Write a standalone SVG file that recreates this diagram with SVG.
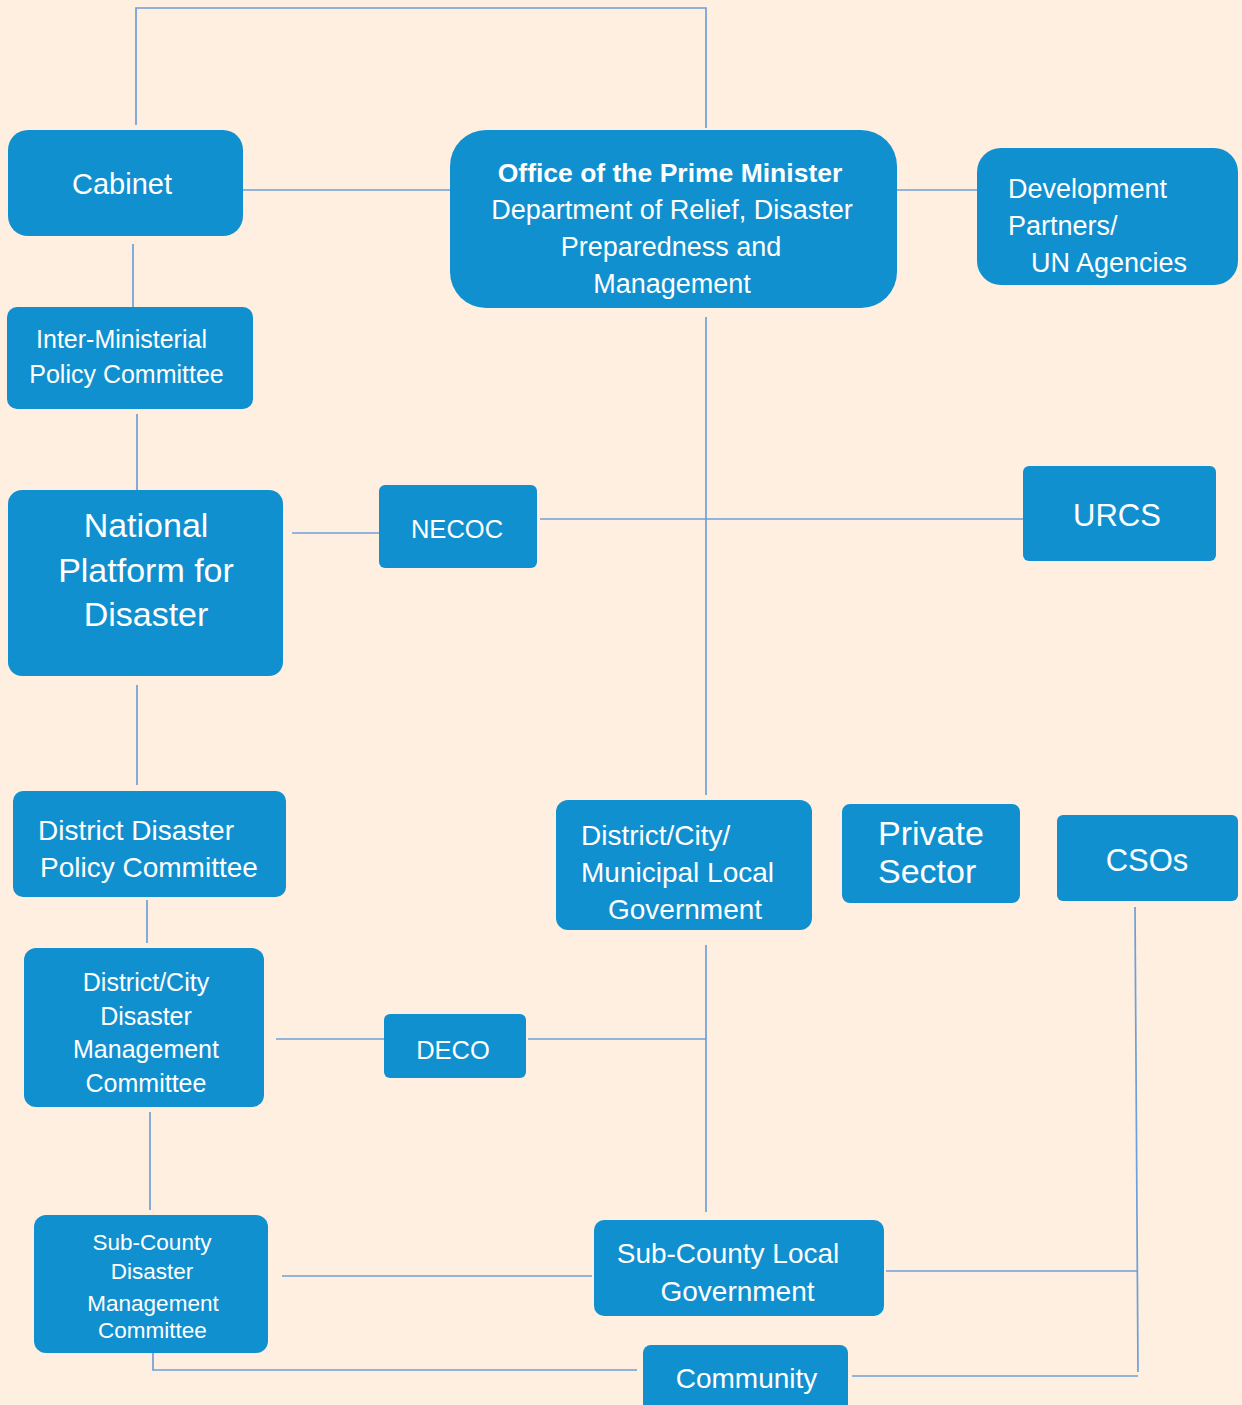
<svg xmlns="http://www.w3.org/2000/svg" width="1242" height="1405" viewBox="0 0 1242 1405">
<style>
.box{fill:#1190D0;}
.ln{stroke:#6E9FD8;stroke-width:1.7;fill:none;}
text{font-family:"Liberation Sans",Arial,sans-serif;fill:#FFFFFF;}
.c{text-anchor:middle;}
.b{font-weight:bold;}
</style>
<rect width="1242" height="1405" fill="#FFEFE0"/>
<g id="connectors">
<polyline class="ln" points="136,125 136,8 706,8 706,128"/>
<line class="ln" x1="243" y1="190" x2="450" y2="190"/>
<line class="ln" x1="897" y1="190" x2="977" y2="190"/>
<line class="ln" x1="133" y1="244" x2="133" y2="312"/>
<line class="ln" x1="137" y1="414" x2="137" y2="490"/>
<line class="ln" x1="292" y1="533" x2="381" y2="533"/>
<line class="ln" x1="540" y1="519" x2="1023" y2="519"/>
<line class="ln" x1="706" y1="317" x2="706" y2="795"/>
<line class="ln" x1="137" y1="685" x2="137" y2="785"/>
<line class="ln" x1="147" y1="900" x2="147" y2="943"/>
<line class="ln" x1="276" y1="1039" x2="384" y2="1039"/>
<line class="ln" x1="528" y1="1039" x2="706" y2="1039"/>
<line class="ln" x1="706" y1="945" x2="706" y2="1212"/>
<line class="ln" x1="150" y1="1112" x2="150" y2="1210"/>
<line class="ln" x1="282" y1="1276" x2="592" y2="1276"/>
<line class="ln" x1="886" y1="1271" x2="1138" y2="1271"/>
<line class="ln" x1="1135" y1="907" x2="1138" y2="1372"/>
<line class="ln" x1="852" y1="1376" x2="1138" y2="1376"/>
<polyline class="ln" points="153,1353 153,1370 637,1370"/>
</g>
<g id="cabinet">
<rect class="box" x="8" y="130" width="235" height="106" rx="20"/>
<text class="c" x="122" y="194" font-size="29">Cabinet</text>
</g>
<g id="opm">
<rect class="box" x="450" y="130" width="447" height="178" rx="36"/>
<text class="c b" x="670" y="182" font-size="26.5">Office of the Prime Minister</text>
<text class="c" x="672" y="219" font-size="27">Department of Relief, Disaster</text>
<text class="c" x="671" y="256" font-size="27">Preparedness and</text>
<text class="c" x="672" y="293" font-size="27">Management</text>
</g>
<g id="devpartners">
<rect class="box" x="977" y="148" width="261" height="137" rx="24"/>
<text x="1008" y="198" font-size="27">Development</text>
<text x="1008" y="235" font-size="27">Partners/</text>
<text x="1031" y="272" font-size="27">UN Agencies</text>
</g>
<g id="impc">
<rect class="box" x="7" y="307" width="246" height="102" rx="10"/>
<text class="c" x="121.5" y="348" font-size="25">Inter-Ministerial</text>
<text class="c" x="126.5" y="383" font-size="25">Policy Committee</text>
</g>
<g id="npd">
<rect class="box" x="8" y="490" width="275" height="186" rx="14"/>
<text class="c" x="146" y="537" font-size="34">National</text>
<text class="c" x="146" y="582" font-size="34">Platform for</text>
<text class="c" x="146" y="626" font-size="34">Disaster</text>
</g>
<g id="necoc">
<rect class="box" x="379" y="485" width="158" height="83" rx="6"/>
<text class="c" x="457" y="538" font-size="25.5">NECOC</text>
</g>
<g id="urcs">
<rect class="box" x="1023" y="466" width="193" height="95" rx="6"/>
<text class="c" x="1117" y="526" font-size="31">URCS</text>
</g>
<g id="ddpc">
<rect class="box" x="13" y="791" width="273" height="106" rx="10"/>
<text x="38" y="840" font-size="28">District Disaster</text>
<text x="40" y="877" font-size="28">Policy Committee</text>
</g>
<g id="dcmlg">
<rect class="box" x="556" y="800" width="256" height="130" rx="12"/>
<text x="581" y="845" font-size="28">District/City/</text>
<text x="581" y="882" font-size="28">Municipal Local</text>
<text x="608" y="919" font-size="28">Government</text>
</g>
<g id="private">
<rect class="box" x="842" y="804" width="178" height="99" rx="8"/>
<text x="878" y="845" font-size="34">Private</text>
<text x="878" y="883" font-size="34">Sector</text>
</g>
<g id="csos">
<rect class="box" x="1057" y="815" width="181" height="86" rx="6"/>
<text class="c" x="1147" y="871" font-size="31">CSOs</text>
</g>
<g id="dcdmc">
<rect class="box" x="24" y="948" width="240" height="159" rx="12"/>
<text class="c" x="146" y="991" font-size="25">District/City</text>
<text class="c" x="146" y="1025" font-size="25">Disaster</text>
<text class="c" x="146" y="1058" font-size="25">Management</text>
<text class="c" x="146" y="1092" font-size="25">Committee</text>
</g>
<g id="deco">
<rect class="box" x="384" y="1014" width="142" height="64" rx="6"/>
<text class="c" x="453" y="1059" font-size="25.5">DECO</text>
</g>
<g id="scdmc">
<rect class="box" x="34" y="1215" width="234" height="138" rx="12"/>
<text class="c" x="152" y="1250" font-size="22.5">Sub-County</text>
<text class="c" x="152" y="1279" font-size="22.5">Disaster</text>
<text class="c" x="153" y="1311" font-size="22.5">Management</text>
<text class="c" x="152.5" y="1338" font-size="22.5">Committee</text>
</g>
<g id="sclg">
<rect class="box" x="594" y="1220" width="290" height="96" rx="10"/>
<text class="c" x="728" y="1263" font-size="28">Sub-County Local</text>
<text class="c" x="737.5" y="1301" font-size="28">Government</text>
</g>
<g id="community">
<rect class="box" x="643" y="1345" width="205" height="75" rx="8"/>
<text class="c" x="746.5" y="1388" font-size="28">Community</text>
</g>
</svg>
